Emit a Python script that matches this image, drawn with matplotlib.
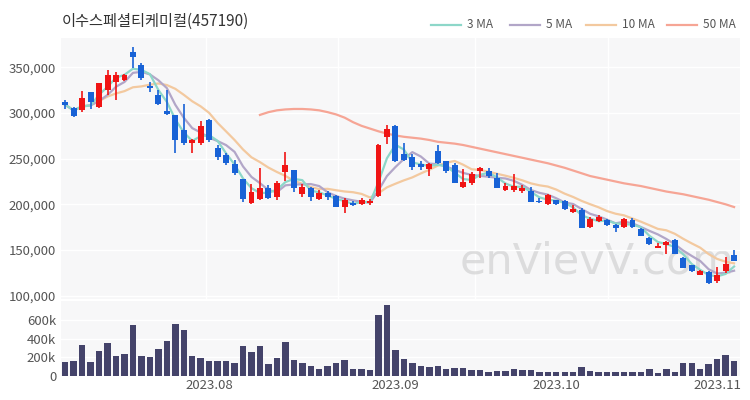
import numpy as np
import pandas as pd
import matplotlib
matplotlib.use("Agg")
import matplotlib.pyplot as plt
from matplotlib.lines import Line2D

plt.rcParams['font.family'] = ['Noto Sans CJK KR', 'DejaVu Sans']

title = "이수스페셜티케미컬(457190)"

# OHLC in won, trading-day index 0..79
opens = [312500, 306000, 303500, 323000, 307000, 325000, 334500, 336000, 367000, 353000,
         330000, 320000, 302000, 298000, 282000, 267000, 267000, 292000, 262000, 254000,
         244000, 228000, 201000, 206000, 218000, 208000, 235000, 237500, 211000, 217500,
         206000, 212000, 209500, 197500, 201000, 200000, 201000, 209500, 274000, 286000,
         255000, 252000, 244000, 239000, 258000, 247000, 243000, 219000, 223000, 236000,
         237000, 228500, 216000, 216000, 215000, 214500, 204000, 200000, 205000, 203500,
         191500, 194000, 175500, 182000, 183000, 177000, 175000, 183000, 172500, 163500,
         152500, 155500, 161000, 141500, 133500, 123000, 126000, 116000, 127000, 144500]
highs = [314500, 307000, 324000, 323500, 333000, 347000, 345500, 343000, 372000, 355000,
         334500, 325000, 325000, 298000, 310500, 272000, 291000, 294000, 265000, 256000,
         248500, 228000, 222000, 240000, 221000, 225500, 257500, 237500, 222000, 219000,
         215500, 214500, 210000, 206500, 204000, 206500, 206000, 266000, 287000, 287000,
         267000, 255000, 247500, 245000, 265000, 247000, 245000, 239000, 235000, 241000,
         240000, 234000, 223000, 233000, 221000, 219000, 207000, 211000, 205000, 204500,
         199000, 195500, 186500, 188500, 184000, 178000, 185000, 185000, 173500, 164500,
         158000, 160000, 162000, 142000, 134000, 128000, 127000, 131000, 142500, 150000]
lows = [305000, 296000, 301500, 305000, 306000, 320000, 314500, 335500, 349000, 336000,
        323000, 309000, 298000, 256000, 265500, 256000, 265500, 268500, 248500, 243000,
        232000, 203000, 200000, 204500, 206000, 204500, 225500, 213000, 208500, 203500,
        204500, 204500, 197000, 191000, 198500, 199000, 199000, 208500, 266000, 246000,
        247000, 237500, 237500, 231000, 244000, 234000, 223000, 218000, 221000, 228500,
        229000, 217500, 214500, 214000, 212000, 202000, 201500, 199000, 199500, 193500,
        191000, 173500, 174500, 181000, 176000, 170000, 174000, 174500, 165000, 155000,
        152000, 145000, 145000, 130000, 126000, 122500, 113000, 114000, 125000, 137500]
closes = [309000, 297000, 316000, 312000, 332500, 342000, 342000, 342000, 362000, 338000,
          328000, 310000, 299000, 270500, 267000, 271000, 286000, 270500, 252000, 245000,
          234000, 206000, 213000, 218000, 207000, 223000, 243000, 217500, 219000, 208500,
          212000, 208500, 197500, 204500, 199000, 204500, 203500, 265000, 283000, 248000,
          249000, 241000, 241000, 244000, 245000, 236000, 223000, 224000, 233000, 240000,
          231000, 217500, 220000, 220000, 218000, 203000, 202000, 210000, 200000, 195000,
          194500, 174500, 184000, 186000, 177000, 174000, 184000, 175000, 165500, 156000,
          154500, 159000, 146000, 130500, 127000, 127000, 113500, 122500, 135000, 138000]
volumes = [148000, 155000, 326000, 148000, 272000, 351000, 209000, 233000, 547000, 209000,
           202000, 290000, 372000, 551000, 487000, 212000, 191000, 155000, 155000, 162000,
           141000, 319000, 255000, 315000, 123000, 194000, 362000, 173000, 144000, 105000,
           77000, 102000, 141000, 166000, 70000, 70000, 65000, 647000, 761000, 273000,
           184000, 141000, 102000, 95000, 112000, 70000, 84000, 84000, 59000, 59000,
           41000, 55000, 55000, 77000, 59000, 66000, 38000, 38000, 38000, 38000,
           38000, 95000, 55000, 38000, 38000, 38000, 38000, 48000, 40000, 77000,
           34000, 70000, 48000, 138000, 138000, 73000, 126000, 184000, 219000, 162000]
# 50-day MA (starts at index 23)
ma50_start = 23
ma50 = [298000, 301000, 303000, 304000, 304500, 304500, 304000, 303000, 301000, 298500,
        295000, 290000, 286000, 283000, 280000, 277500, 275500, 274000, 273000, 272000,
        270500, 268500, 267500, 266500, 265000, 263000, 261000, 259000, 257000, 255000,
        253000, 251000, 249000, 247000, 245000, 242500, 240000, 237000, 234000, 231000,
        229000, 227000, 225000, 223000, 221500, 220000, 218000, 216000, 214000, 212500,
        211000, 209000, 207000, 205000, 202500, 200000, 197000]

month_ticks = [17, 39, 58, 77]
month_labels = ["2023.08", "2023.09", "2023.10", "2023.11"]
price_ticks = [100000, 150000, 200000, 250000, 300000, 350000]
vol_ticks = [0, 200000, 400000, 600000]
vol_labels = ["0", "200k", "400k", "600k"]

UP = '#f01414'
DOWN = '#1862d6'
BG = '#f7f7f8'
TXT = '#555555'

n = len(closes)
x = np.arange(n)
o = np.array(opens); h = np.array(highs); l = np.array(lows); c = np.array(closes)
cs = pd.Series(c, dtype=float)
ma3 = cs.rolling(3, min_periods=1).mean()
ma5 = cs.rolling(5, min_periods=1).mean()
ma10 = cs.rolling(10, min_periods=1).mean()

fig = plt.figure(figsize=(7.5, 4), dpi=100)
ax = fig.add_axes([61/750, 1-299/400, 679/750, (299-38)/400])
axv = fig.add_axes([61/750, 1-376/400, 679/750, (376-301)/400])

for a in (ax, axv):
    a.set_facecolor(BG)
    for s in a.spines.values():
        s.set_visible(False)
    a.tick_params(length=0, colors=TXT, labelsize=9.5)
    a.set_xlim(-0.5, 79.7)

# grids
ax.set_yticks(price_ticks)
ax.set_yticklabels([f"{t:,}" for t in price_ticks])
ax.set_ylim(96200, 382300)
ax.grid(axis='y', color='white', linewidth=1.0, zorder=0)
for gx in [16.6, 32.2, 48.4, 64.1]:
    ax.axvline(gx, color='white', linewidth=1.0, zorder=0)
ax.set_xticks([])
ax.set_axisbelow(True)

# watermark
ax.text(0.79, 0.145, "enVievV.com", transform=ax.transAxes, fontsize=31,
        family='DejaVu Sans', color='#d4d4d4', alpha=0.75, ha='center', va='center', zorder=0.5)

# MA lines
ax.plot(x[ma50_start:ma50_start+len(ma50)], ma50, color='#f6a595', lw=1.6, zorder=2)
ax.plot(x, ma10, color='#f3c99f', lw=1.6, zorder=2)
ax.plot(x, ma5, color='#b2a6c8', lw=1.6, zorder=2)
ax.plot(x, ma3, color='#8dd7c9', lw=1.6, zorder=2)

# candles
colors = [UP if cc >= oo else DOWN for oo, cc in zip(o, c)]
ax.vlines(x, l, h, colors=colors, linewidth=1.2, zorder=3)
body = np.maximum(np.abs(c - o), 900)
bottom = np.minimum(o, c)
ax.bar(x, body, bottom=bottom, width=0.7, color=colors, zorder=4, linewidth=0)

# volume
axv.bar(x, volumes, width=0.76, color='#44436a', zorder=3, linewidth=0)
axv.set_ylim(0, 800000)
axv.set_yticks(vol_ticks)
axv.set_yticklabels(vol_labels)
axv.grid(axis='y', color='white', linewidth=1.0, zorder=0)
axv.set_axisbelow(True)
axv.set_xticks(month_ticks)
axv.set_xticklabels(month_labels)
axv.tick_params(axis='x', pad=2)

# title
fig.text(62/750, 1-21/400, title, fontsize=11, color='#333333', va='center', ha='left')

# legend
leg = [("3 MA", '#8dd7c9', 431), ("5 MA", '#b2a6c8', 510), ("10 MA", '#f3c99f', 586), ("50 MA", '#f6a595', 667)]
ly = 1 - 25/400
for lab, col, x0 in leg:
    fig.add_artist(Line2D([x0/750, (x0+30)/750], [ly, ly], transform=fig.transFigure, color=col, lw=1.6))
    fig.text((x0+36)/750, ly, lab, fontsize=8.5, color=TXT, va='center', ha='left')

fig.savefig("out.png", dpi=100, facecolor='white')
